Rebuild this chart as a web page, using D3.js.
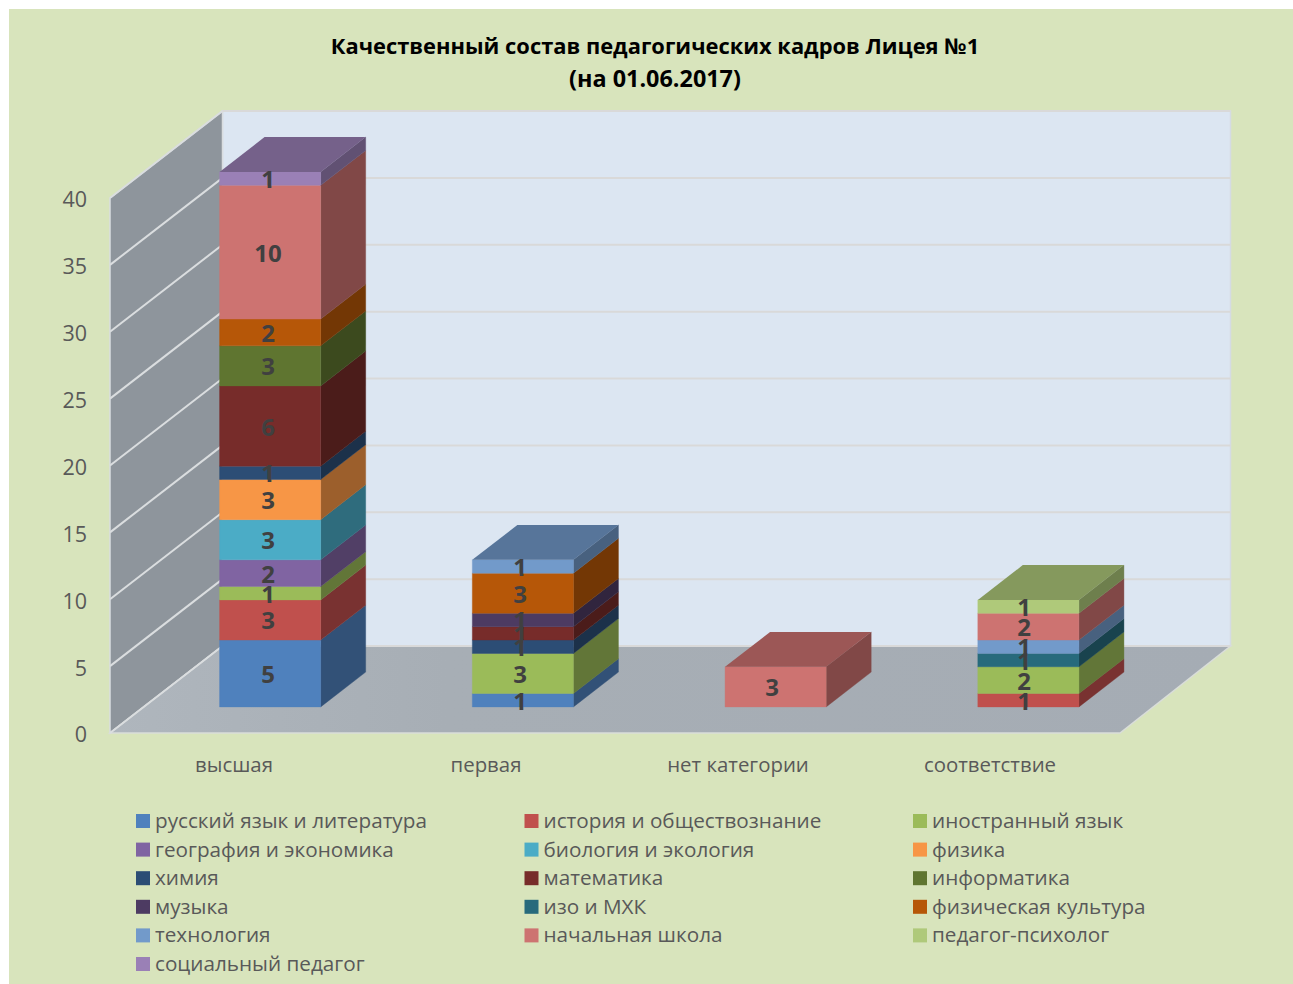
<!DOCTYPE html>
<html lang="ru"><head><meta charset="utf-8">
<script src="https://cdn.jsdelivr.net/npm/d3@7"></script>
<style>html,body{margin:0;padding:0;background:#fff}svg{display:block}text{font-family:"Open Sans","Noto Sans",sans-serif}</style>
</head><body><svg id="c" width="1293" height="984"></svg>
<script>
const titleLines = ["Качественный состав педагогических кадров Лицея №1", "(на 01.06.2017)"];
const categories = ["высшая", "первая", "нет категории", "соответствие"];
const seriesNames = ["русский язык и литература","история и обществознание","иностранный язык","география и экономика","биология и экология","физика","химия","математика","информатика","музыка","изо и МХК","физическая культура","технология","начальная школа","педагог-психолог","социальный педагог"];
const seriesColors = ["#4F81BD","#C0504D","#9BBB59","#8064A2","#4BACC6","#F79646","#2C4D75","#772C2A","#5F7530","#4D3B62","#276A7C","#B65708","#729ACA","#CD7371","#AFC97A","#9A80B6"];
// values per category, in series order
const vVysshaya = [5,3,1,2,3,3,1,6,3,0,0,2,0,10,0,1];
const vPervaya  = [1,0,3,0,0,0,1,1,0,1,0,3,1,0,0,0];
const vNet      = [0,0,0,0,0,0,0,0,0,0,0,0,0,3,0,0];
const vSootv    = [0,1,2,0,0,0,0,0,0,0,1,0,1,2,1,0];
const table = [vVysshaya, vPervaya, vNet, vSootv];
const valueTicks = [0,5,10,15,20,25,30,35,40];

const svg = d3.select("#c");
// oblique projection: t = depth 0..1 from front to back of the plot box
const depthX = d3.scaleLinear().domain([0,1]).range([0,112.5]);
const depthY = d3.scaleLinear().domain([0,1]).range([0,-87]);
const y = d3.scaleLinear().domain([0,40]).range([733,198]);
const xBars = d3.scaleBand().domain(categories).range([110,1121]);
const xAxisLabels = d3.scaleBand().domain(categories).range([108,1116]);
const P = (x,v,t)=>[x+depthX(t), y(v)+depthY(t)];
const poly = (pts)=>"M"+pts.map(p=>p.join(",")).join("L")+"Z";
const shade = (c,k)=>{const r=d3.rgb(c);return d3.rgb(r.r*k,r.g*k,r.b*k).formatRgb();};

// chart background
svg.append("rect").attr("x",9).attr("y",9).attr("width",1284).attr("height",975).attr("fill","#D8E4BC");

// title
svg.append("g").selectAll("text").data(titleLines).join("text")
  .attr("x",655).attr("y",(d,i)=>54+i*33).attr("text-anchor","middle")
  .attr("font-size",(d,i)=>i?23.4:21.9).attr("font-weight",700).attr("fill","#000").text(d=>d);

// box
const x0=110, x1=1118;
const defs = svg.append("defs");
const gf = defs.append("linearGradient").attr("id","floorG").attr("x1",0).attr("x2",1).attr("y1",0).attr("y2",0);
gf.append("stop").attr("offset",0).attr("stop-color","#AFB6BD");
gf.append("stop").attr("offset",0.3).attr("stop-color","#A7AEB5");
gf.append("stop").attr("offset",1).attr("stop-color","#A5ACB4");
svg.append("path").attr("d",poly([P(x0,0,1),P(x1,0,1),P(x1,40,1),P(x0,40,1)])).attr("fill","#DCE6F2").attr("stroke","#D5DBE3").attr("stroke-width",1.5);
svg.append("path").attr("d",poly([P(x0,0,0),P(x0,40,0),P(x0,40,1),P(x0,0,1)])).attr("fill","#8E959C").attr("stroke","#D9DDE0").attr("stroke-width",1.5);
svg.append("path").attr("d",poly([P(x0,0,0),P(x1+2,0,0),P(x1,0,1),P(x0,0,1)])).attr("fill","url(#floorG)").attr("stroke","#D9DDD9").attr("stroke-width",1.5);
const grid = svg.append("g").attr("fill","none").attr("stroke","#D9D9D9").attr("stroke-width",2);
grid.selectAll("path.w").data(valueTicks).join("path").attr("class","w").attr("d",v=>"M"+P(x0,v,0)+"L"+P(x0,v,1)).attr("stroke","#DADDDF");
grid.selectAll("path.b").data(valueTicks).join("path").attr("class","b").attr("d",v=>"M"+P(x0,v,1)+"L"+P(x1,v,1));

// bars
const barW = xBars.step()*0.4;
const tF = 0.3, tB = 0.7;
const barsG = svg.append("g"), labelsG = svg.append("g");
categories.forEach((cat,ci)=>{
  const vals = table[ci];
  const cx = xBars(cat)+xBars.bandwidth()/2+depthX(tF);
  const xl = cx-barW/2-depthX(tF), xr = cx+barW/2-depthX(tF);
  let acc = 0;
  const segs = [];
  vals.forEach((v,si)=>{ if(v>0){ segs.push({si,v,a:acc,b:acc+v}); acc+=v; } });
  const g = barsG.append("g");
  const s = g.selectAll("g").data(segs).join("g");
  s.append("path").attr("d",d=>poly([P(xr,d.a,tF),P(xr,d.b,tF),P(xr,d.b,tB),P(xr,d.a,tB)]))
    .attr("fill",d=>shade(seriesColors[d.si],0.63)).attr("stroke",d=>shade(seriesColors[d.si],0.63)).attr("stroke-width",0.4);
  s.append("path").attr("d",d=>poly([P(xl,d.a,tF),P(xr,d.a,tF),P(xr,d.b,tF),P(xl,d.b,tF)]))
    .attr("fill",d=>seriesColors[d.si]).attr("stroke",d=>seriesColors[d.si]).attr("stroke-width",0.4);
  const top = segs[segs.length-1];
  g.append("path").attr("d",poly([P(xl,top.b,tF),P(xr,top.b,tF),P(xr,top.b,tB),P(xl,top.b,tB)])).attr("fill",shade(seriesColors[top.si],0.76));
  const lx = xAxisLabels(cat)+xAxisLabels.bandwidth()/2+34;
  labelsG.selectAll(null).data(segs).join("text")
    .attr("x",lx).attr("y",d=>(y(d.a)+y(d.b))/2+depthY(tF)+9.5)
    .attr("text-anchor","middle").attr("font-size",24).attr("font-weight",700).attr("fill","#404040").text(d=>d.v);
});

// axes
const yAxis = d3.axisLeft(y).tickValues(valueTicks).tickSize(0).tickPadding(23);
const ya = svg.append("g").attr("transform","translate(110,2)").call(yAxis);
ya.select(".domain").remove();
ya.selectAll("text").attr("font-size",21.5).attr("fill","#595959");
const xAxis = d3.axisBottom(xAxisLabels).tickSize(0).tickPadding(25);
const xa = svg.append("g").attr("transform","translate(0,733)").call(xAxis);
xa.select(".domain").remove();
xa.selectAll("text").attr("font-size",20.4).attr("fill","#595959");

// legend
const lCol = d3.scalePoint().domain([0,1,2]).range([136,913]);
const lRow = d3.scalePoint().domain([0,1,2,3,4,5]).range([821,964]);
const lg = svg.append("g").selectAll("g").data(seriesNames).join("g")
  .attr("transform",(d,i)=>`translate(${lCol(i%3)},${lRow(Math.floor(i/3))})`);
lg.append("rect").attr("x",0).attr("y",-7).attr("width",14).attr("height",14).attr("fill",(d,i)=>seriesColors[i]);
lg.append("text").attr("x",19).attr("y",7).attr("font-size",20.7).attr("fill","#595959").text(d=>d);
</script></body></html>
